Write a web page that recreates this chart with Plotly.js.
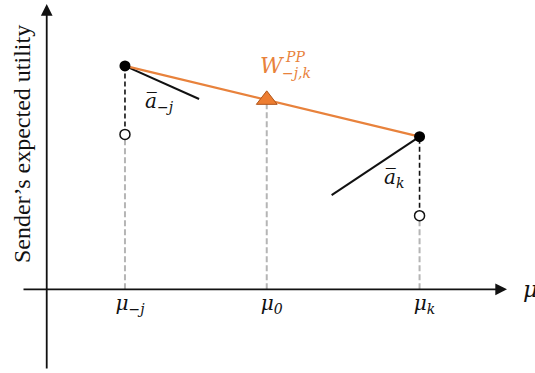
<!DOCTYPE html>
<html>
<head>
<meta charset="utf-8">
<script src="https://cdn.plot.ly/plotly-3.0.1.min.js"></script>
<style>html,body{margin:0;padding:0;background:#fff}#chart{width:535px;height:373px}</style>
</head>
<body>
<div id="chart"></div>
<script>
// Beliefs on the horizontal axis and their tick labels
const beliefs = [0.170, 0.478, 0.810];
const beliefLabels = ['μ<sub>−j</sub>', 'μ<sub>0</sub>', 'μ<sub>k</sub>'];
// Sender utility at the two posteriors: upper = filled dot, lower = open circle
const upperUtility = [0.783, 0.535];
const lowerUtility = [0.543, 0.258];
// Value of the pooling pair at the prior
const priorValue = 0.664;
// Tangent stubs for ā_{-j} and ā_k
const tangentJX = [0.170, 0.331], tangentJY = [0.783, 0.667];
const tangentKX = [0.810, 0.619], tangentKY = [0.535, 0.330];

const ORANGE = '#E8823C';
const mathFont = { family: 'DejaVu Serif, serif', size: 20, color: '#111', style: 'italic' };
const posts = [beliefs[0], beliefs[2]];

const traces = [
    { // gray guides from the axis up
        x: [posts[0], posts[0], null, beliefs[1], beliefs[1], null, posts[1], posts[1]],
        y: [0, lowerUtility[0], null, 0, priorValue, null, 0, lowerUtility[1]],
        mode: 'lines', line: { color: '#b5b5b5', width: 2, dash: '6px,3px' }
    },
    { // black dashed jump at each posterior
        x: [posts[0], posts[0], null, posts[1], posts[1]],
        y: [lowerUtility[0], upperUtility[0], null, lowerUtility[1], upperUtility[1]],
        mode: 'lines', line: { color: '#111', width: 1.6, dash: '5px,3px' }
    },
    { x: tangentJX, y: tangentJY, mode: 'lines', line: { color: '#111', width: 2 } },
    { x: tangentKX, y: tangentKY, mode: 'lines', line: { color: '#111', width: 2 } },
    { x: posts, y: upperUtility, mode: 'lines', line: { color: ORANGE, width: 2.2 } },
    {
        x: posts, y: lowerUtility, mode: 'markers',
        marker: { symbol: 'circle', size: 10, color: '#fff', line: { color: '#111', width: 1.5 } }
    },
    {
        x: posts, y: upperUtility, mode: 'markers',
        marker: { symbol: 'circle', size: 11, color: '#000' }
    },
    {
        x: [beliefs[1]], y: [priorValue], mode: 'markers',
        marker: { symbol: 'triangle-up', size: 18, color: '#ED7D31', line: { color: '#B0561C', width: 1 } }
    }
];

const axisArrow = (x, y, ax, ay) => ({
    x: x, y: y, ax: ax, ay: ay, xref: 'x', yref: 'y', axref: 'x', ayref: 'y',
    text: '', showarrow: true, arrowhead: 2, arrowsize: 1.3, arrowwidth: 1.8, arrowcolor: '#111'
});

Plotly.newPlot('chart', traces, {
    width: 535, height: 373,
    margin: { l: 0, r: 0, t: 0, b: 0 },
    paper_bgcolor: '#fff', plot_bgcolor: '#fff',
    showlegend: false,
    xaxis: {
        range: [-0.1015, 1.0608], anchor: 'free', position: 0.2244,
        showgrid: false, zeroline: false, showline: false, ticks: '',
        tickvals: beliefs, ticktext: beliefLabels, tickfont: mathFont,
        ticklabelstandoff: 0, ticklabelshift: 5
    },
    yaxis: { range: [-0.2934, 1.014], visible: false },
    annotations: [
        axisArrow(1.0, 0, -0.0537, 0),
        axisArrow(0, 1.0, 0, -0.283),
        { xref: 'paper', yref: 'y', x: 521 / 535, y: 0, xanchor: 'left', yanchor: 'middle',
          text: 'μ', showarrow: false, font: { ...mathFont, size: 23 } },
        { xref: 'paper', yref: 'paper', x: 22 / 535, y: (373 - 144) / 373, xanchor: 'center', yanchor: 'middle',
          textangle: -90, text: 'Sender’s expected utility', showarrow: false,
          font: { family: 'Liberation Serif, serif', size: 24, color: '#111' } },
        { x: posts[0], y: upperUtility[0], xshift: 35, yshift: -36, showarrow: false,
          text: 'a\u0305<sub>−j</sub>', font: mathFont },
        { x: posts[1], y: upperUtility[1], xshift: -26, yshift: -41, showarrow: false,
          text: 'a\u0305<sub>k</sub>', font: mathFont },
        { x: beliefs[1], y: priorValue, xshift: 5.5, yshift: 34, showarrow: false,
          text: 'W', font: { ...mathFont, size: 22, color: ORANGE } },
        { x: beliefs[1], y: priorValue, xshift: 28, yshift: 43, showarrow: false,
          text: 'PP', font: { ...mathFont, size: 14, color: ORANGE } },
        { x: beliefs[1], y: priorValue, xshift: 30, yshift: 27, showarrow: false,
          text: '−j,k', font: { ...mathFont, size: 14, color: ORANGE } }
    ]
}, { displayModeBar: false, staticPlot: true });
</script>
</body>
</html>
